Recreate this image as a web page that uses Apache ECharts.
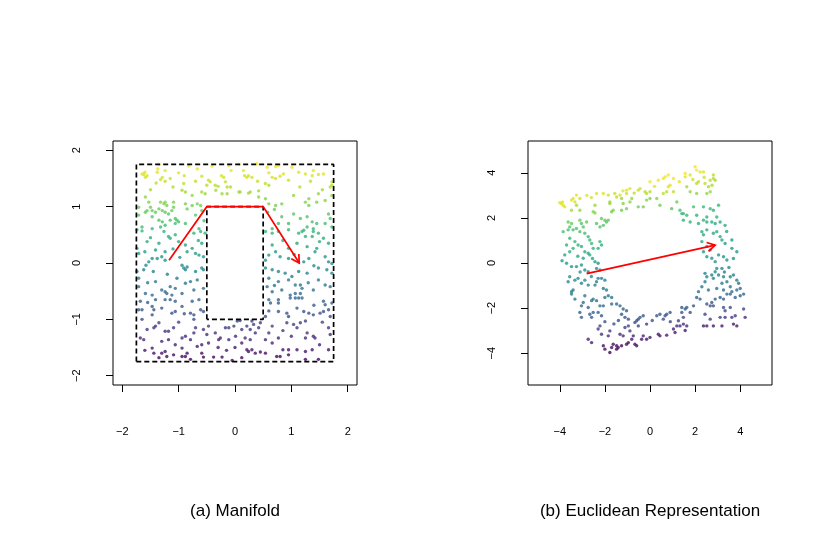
<!DOCTYPE html>
<html><head><meta charset="utf-8">
<script src="https://cdn.jsdelivr.net/npm/echarts@6/dist/echarts.min.js"></script>
<style>html,body{margin:0;padding:0;background:#fff}#c{width:830px;height:554px}</style>
</head><body><div id="c"></div>
<script>
// ---------- data ----------
const manifoldTicks = [-2, -1, 0, 1, 2];
const euclidTicks = [-4, -2, 0, 2, 4];
const titles = ['(a) Manifold', '(b) Euclidean Representation'];

// (a) points [x, y]; colour follows y
const manifoldPoints = [
[-1.60,1.61],[-1.62,1.57],[-1.56,1.55],[-1.59,1.52],[-1.65,1.58],[-1.35,1.75],[-1.37,1.67],[-1.24,1.64],[-1.29,1.52],[-1.38,1.61],[-1.40,1.42],[-1.32,1.48],[-1.24,1.45],[-0.82,1.72],[-0.67,1.67],[-0.59,1.54],[-0.41,1.72],[-0.47,1.47],[-0.44,1.44],[-0.30,1.36],[-0.24,1.55],[-0.20,1.52],[-0.17,1.44],[-0.11,1.73],[-0.07,1.64],[-0.08,1.35],[-0.14,1.35],[0.07,1.75],[0.15,1.64],[0.17,1.55],[0.24,1.55],[0.30,1.52],[0.21,1.52],[0.09,1.26],[0.39,1.76],[0.60,1.60],[0.57,1.70],[0.72,1.71],[0.77,1.73],[0.66,1.52],[0.72,1.50],[0.80,1.54],[0.86,1.58],[0.95,1.47],[0.54,1.41],[0.60,1.38],[1.01,1.70],[1.13,1.61],[1.25,1.58],[1.39,1.64],[1.37,1.55],[1.48,1.57],[1.57,1.58],[1.72,1.44],[1.72,1.38],[1.69,1.35],[1.34,1.45],[-0.91,1.41],[-0.94,1.29],[-0.88,1.26],[-0.76,1.20],[-0.59,1.26],[-0.50,1.38],[-0.53,1.23],[-0.35,1.38],[-0.34,1.29],[-0.23,1.23],[-0.14,1.23],[0.07,1.26],[0.24,1.24],[0.27,1.26],[0.42,1.28],[0.42,1.17],[0.54,1.14],[0.60,1.05],[0.72,1.02],[0.83,1.05],[1.04,1.20],[1.25,1.08],[1.31,1.14],[1.31,1.02],[1.45,1.08],[1.60,1.11],[1.72,1.20],[1.48,1.23],
[-1.50,1.30],[-1.10,1.35],[-1.00,1.60],[-0.90,1.55],[-1.15,1.50],[-0.70,1.45],[0.40,1.45],[1.15,1.35],[1.55,1.30],
[-1.59,1.17],[-1.53,1.08],[-1.50,0.99],[-1.56,0.93],[-1.59,0.90],[-1.47,0.93],[-1.41,0.90],[-1.32,1.08],[-1.26,1.05],[-1.24,1.08],[-1.21,1.02],[-1.35,0.96],[-1.29,0.93],[-1.24,0.90],[-1.12,0.93],[-1.18,0.87],[-1.06,0.79],[-1.03,0.76],[-1.09,1.08],[-1.09,0.99],[-0.88,1.05],[-0.85,0.96],[-0.76,1.02],[-0.67,1.05],[-0.61,1.02],[-0.59,0.93],[-1.47,0.82],[-1.35,0.76],[-1.29,0.73],[-1.15,0.76],[-1.06,0.70],[-1.00,0.73],[-1.71,0.99],[-1.71,0.85],[-1.65,0.64],[-1.47,0.61],[-1.32,0.64],[-1.24,0.67],[-0.88,0.70],[-0.64,0.61],[-0.70,0.85],[-0.55,0.75],
[0.83,0.82],[1.04,0.87],[1.16,0.79],[1.28,0.82],[1.37,0.73],[1.45,0.70],[1.60,0.70],[1.69,0.79],[1.28,0.64],[0.95,0.70],[1.22,0.58],[1.66,0.87],[0.77,0.70],[0.66,0.61],[1.39,0.61],[1.72,0.64],[0.58,0.90],[0.70,0.95],
[-1.74,0.59],[-1.65,0.57],[-1.56,0.38],[-1.26,0.56],[-1.18,0.47],[-1.15,0.44],[-1.06,0.50],[-1.00,0.38],[-0.88,0.32],[-0.85,0.20],[-0.76,0.26],[-0.70,0.17],[-0.64,0.14],[-0.59,0.35],[-0.56,0.11],[-0.61,0.56],[-0.53,0.53],[-0.73,0.53],[-1.71,0.17],[-1.74,0.26],[-1.58,-0.04],[-1.53,0.02],[-1.47,0.08],[-1.38,0.08],[-1.30,0.11],[-1.24,0.05],[-1.41,0.23],[-1.24,0.20],[-1.62,-0.12],[-1.74,-0.15],[-1.71,-0.27],[-1.71,-0.42],[-1.41,-0.33],[-1.30,-0.48],[-1.24,-0.51],[-1.21,-0.54],[-1.12,-0.57],[-1.03,-0.27],[-0.94,-0.04],[-0.91,-0.09],[-0.88,-0.12],[-0.85,-0.07],[-0.88,-0.36],[-0.79,-0.33],[-0.73,-0.48],[-0.67,-0.30],[-0.59,-0.09],[-0.56,-0.12],[-0.56,-0.45],[-1.47,-0.57],[-1.59,-0.54],[-1.06,-0.45],[-0.94,-0.54],[-1.15,-0.42],
[-1.50,0.45],[-1.35,0.35],[-1.60,0.20],[-1.10,0.25],[-1.20,-0.20],[-1.45,-0.15],[-0.70,-0.15],[-0.65,0.40],[-1.55,-0.35],[-0.98,0.10],
[0.54,0.56],[0.66,0.53],[0.77,0.56],[0.95,0.59],[1.13,0.53],[1.19,0.56],[1.25,0.47],[1.37,0.47],[1.39,0.56],[1.48,0.53],[1.57,0.44],[1.66,0.35],[0.66,0.32],[0.72,0.20],[0.60,0.14],[0.54,0.05],[0.80,0.11],[0.95,0.26],[1.10,0.35],[1.28,0.29],[1.42,0.20],[1.45,0.26],[1.31,0.08],[1.60,0.11],[1.66,0.02],[1.72,-0.01],[1.22,0.02],[0.95,0.08],[0.54,-0.09],[0.66,-0.12],[0.77,-0.15],[0.89,-0.18],[1.01,-0.24],[1.13,-0.15],[1.28,-0.18],[1.48,-0.09],[1.63,-0.12],[1.72,-0.18],[0.60,-0.27],[0.77,-0.33],[0.95,-0.30],[1.07,-0.39],[1.16,-0.39],[1.19,-0.45],[1.16,-0.54],[1.07,-0.54],[0.98,-0.57],[0.83,-0.48],[0.66,-0.51],[0.57,-0.42],[1.48,-0.30],[1.60,-0.39],[1.69,-0.42],[1.39,-0.48],
[0.85,0.40],[1.50,0.38],[1.05,0.15],[1.40,-0.05],[0.70,-0.40],[1.30,-0.35],
[-1.68,-0.68],[-1.71,-0.83],[-1.65,-0.83],[-1.47,-0.77],[-1.44,-0.83],[-1.47,-0.92],[-1.41,-0.65],[-1.24,-0.65],[-1.15,-0.65],[-1.06,-0.68],[-1.12,-0.89],[-1.06,-0.86],[-0.94,-0.77],[-0.79,-0.89],[-0.73,-0.92],[-0.76,-0.68],[-0.64,-0.65],[-0.61,-0.83],[-0.56,-0.86],[-0.73,-1.00],[-1.35,-1.06],[-1.41,-1.12],[-1.44,-1.15],[-1.56,-1.18],[-1.24,-1.21],[-1.18,-1.21],[-1.09,-1.15],[-1.68,-1.33],[-1.62,-1.36],[-1.47,-1.51],[-1.30,-1.39],[-1.18,-1.36],[-0.94,-1.33],[-0.88,-1.30],[-0.79,-1.36],[-0.73,-1.24],[-0.70,-1.15],[-0.56,-1.18],[-0.47,-1.12],[-0.50,-1.27],[-0.67,-1.48],[-0.59,-1.45],[-0.47,-1.42],[-0.94,-1.51],[-1.06,-1.45],[-1.24,-1.57],[-1.30,-1.60],[-1.21,-1.66],[-1.09,-1.63],[-1.35,-1.68],[-1.44,-1.60],[-0.94,-1.66],[-0.88,-1.66],[-0.85,-1.60],[-0.79,-1.71],[-0.59,-1.60],[-0.56,-1.67],[-0.38,-1.67],[-0.23,-1.67],[-0.05,-1.73],[0.12,-1.68],[0.24,-1.57],[0.30,-1.54],[0.36,-1.60],[0.45,-1.58],[0.21,-1.54],[0.18,-1.33],[0.27,-1.36],[0.12,-1.42],[0.01,-1.30],[-0.11,-1.36],[-0.26,-1.33],[-0.35,-1.24],[-0.17,-1.15],[-0.11,-1.15],[-0.02,-1.12],[0.04,-1.03],[0.12,-1.18],[0.21,-1.12],[0.27,-1.18],[0.33,-1.09],[0.36,-1.24],[0.42,-1.15],[0.45,-1.06],[0.30,-1.03],[0.09,-1.02],[-0.29,-1.36],
[-0.30,-1.50],[-0.15,-1.55],[0.00,-1.50],[-1.60,-1.55],[-1.65,-1.00],[-1.00,-1.05],[-0.90,-0.90],[-1.30,-0.80],[-1.55,-0.70],
[0.60,-0.65],[0.63,-0.71],[0.77,-0.65],[0.77,-0.71],[0.98,-0.62],[1.07,-0.62],[1.13,-0.62],[1.19,-0.62],[1.57,-0.68],[1.60,-0.74],[1.72,-0.71],[0.77,-0.86],[0.92,-0.89],[0.95,-0.95],[1.22,-0.86],[1.31,-0.89],[1.39,-0.92],[1.51,-0.89],[1.57,-0.86],[1.66,-0.83],[1.69,-0.95],[0.54,-0.95],[0.66,-1.12],[0.92,-1.06],[1.04,-1.09],[1.16,-1.06],[1.25,-1.03],[1.10,-1.15],[1.28,-1.24],[1.25,-1.33],[1.39,-1.30],[1.42,-1.33],[1.66,-1.15],[1.69,-1.27],[0.77,-1.33],[0.54,-1.36],[0.60,-1.24],[0.85,-1.54],[0.95,-1.54],[1.10,-1.54],[1.25,-1.57],[1.37,-1.54],[1.66,-1.54],[0.74,-1.66],[0.80,-1.66],[1.48,-1.71],[1.25,-1.71],[0.95,-1.63],[0.54,-1.60],[0.66,-1.42],
[1.50,-1.45],[1.00,-1.30],[0.85,-1.20],[1.40,-0.75],[1.10,-0.80],[0.60,-0.85],[1.55,-1.05]
];

// (b) points [x, y, colour value (original height)]
const euclidPoints = [
[-3.93,2.64,1.6],[-3.85,2.56,1.6],[-3.78,2.49,1.6],[-4.00,2.67,1.6],[-3.88,2.71,1.6],[-3.48,2.79,1.6],[-3.41,2.86,1.6],[-3.26,3.01,1.6],[-3.11,2.86,1.5],[-3.33,2.71,1.5],[-2.37,3.08,1.6],[-2.07,3.08,1.6],[-1.85,3.01,1.5],[-1.56,3.08,1.5],[-1.33,3.01,1.5],[-1.48,2.93,1.4],[-1.04,3.23,1.6],[-0.89,3.30,1.6],[-1.04,3.08,1.5],[-0.52,3.23,1.5],[-0.44,3.30,1.5],[-0.22,3.16,1.4],[-0.15,3.08,1.4],[0.00,3.16,1.4],[0.00,3.60,1.7],[0.37,3.67,1.7],[0.59,3.75,1.7],[0.67,3.82,1.7],[0.81,3.90,1.7],[0.89,3.45,1.6],[0.81,3.38,1.6],[1.04,3.75,1.7],[0.59,3.08,1.4],[0.74,3.16,1.4],[1.04,3.16,1.4],[1.56,3.97,1.7],[1.56,3.82,1.6],[1.78,3.90,1.6],[2.00,4.27,1.7],[2.07,4.12,1.7],[2.22,4.04,1.6],[2.37,4.04,1.6],[2.07,3.53,1.4],[2.15,3.60,1.4],[2.44,3.53,1.4],[2.67,3.67,1.4],[2.81,3.90,1.4],[2.81,3.75,1.4],[2.89,3.67,1.3],[2.59,3.38,1.3],[2.67,3.16,1.2],[2.52,3.08,1.2],[1.63,3.38,1.3],[1.78,3.16,1.2],[2.07,3.08,1.2],
[-2.80,3.00,1.6],[-2.60,2.90,1.5],[-1.20,3.20,1.6],[-0.70,3.10,1.4],[0.20,3.40,1.6],[1.30,3.60,1.6],[1.90,3.70,1.5],[2.40,3.80,1.5],[2.75,3.45,1.3],
[-3.48,2.34,1.3],[-3.26,2.56,1.3],[-3.11,2.34,1.2],[-2.52,2.27,1.1],[-2.44,2.22,1.1],[-1.78,2.64,1.2],[-1.70,2.27,1.0],[-1.63,2.34,1.1],[-1.26,2.34,1.0],[-1.04,2.41,1.0],[-0.89,2.71,1.1],[-0.81,2.86,1.2],[-0.52,2.49,1.0],[-0.30,2.49,1.0],[-0.15,2.79,1.1],[0.00,2.86,1.1],[0.30,2.86,1.1],[0.44,2.56,1.0],[-2.44,2.56,1.2],[-1.26,2.86,1.2],[-1.78,2.71,1.2],[-1.19,2.64,1.1],
[-3.63,1.82,0.9],[-3.48,1.75,0.9],[-3.56,1.60,0.8],[-3.11,1.90,0.9],[-3.04,1.75,0.8],[-2.81,1.82,0.9],[-2.96,1.60,0.8],[-3.26,1.53,0.8],[-2.37,1.75,0.8],[-2.15,1.97,0.9],[-2.07,1.67,0.8],[-2.00,1.90,0.9],[-1.93,1.82,0.8],[-1.85,1.90,0.9],[-2.22,1.60,0.8],
[0.96,2.41,0.8],[1.33,2.34,0.7],[1.48,2.19,0.6],[1.63,2.12,0.6],[1.41,2.19,0.6],[1.93,2.49,0.7],[2.37,2.49,0.6],[2.67,2.41,0.6],[3.04,2.56,0.6],[2.07,2.12,0.5],[2.52,2.04,0.5],[2.81,2.34,0.5],[2.52,1.82,0.4],[2.74,1.82,0.4],[2.89,1.75,0.4],[3.11,1.82,0.4],[3.33,1.67,0.4],[1.78,1.82,0.5],[2.15,1.75,0.5],[2.37,1.90,0.5],[1.19,2.71,0.9],[1.48,1.90,0.5],[2.96,2.04,0.5],
[-3.85,1.39,0.7],[-3.63,1.47,0.7],[-3.41,1.47,0.7],[-3.11,1.39,0.7],[-2.89,1.32,0.7],[-2.74,1.17,0.6],[-2.67,1.02,0.6],[-2.59,0.87,0.6],[-2.22,0.95,0.6],[-2.15,0.80,0.5],[-2.30,0.65,0.5],[-2.52,0.65,0.5],[-3.56,1.10,0.6],[-3.33,0.95,0.6],[-3.19,0.80,0.5],[-3.04,0.73,0.5],[-3.41,0.65,0.5],[-2.89,0.50,0.4],[-2.74,0.43,0.4],[-2.67,0.36,0.4],[-2.96,0.21,0.3],[-3.56,0.50,0.4],[-3.78,0.36,0.3],[-3.70,-0.01,0.2],[-3.48,-0.16,0.1],[-3.26,-0.16,0.1],[-3.04,-0.09,0.1],[-2.89,-0.31,0.0],[-2.74,-0.39,0.0],[-2.44,0.06,0.2],[-2.30,-0.01,0.1],[-2.37,-0.24,0.0],[-2.22,-0.31,0.0],[-2.15,-0.68,-0.2],[-2.30,-0.68,-0.2],[-2.37,-0.83,-0.2],[-2.44,-0.98,-0.3],[-2.00,-0.76,-0.2],[-2.07,-1.13,-0.3],[-1.93,-1.20,-0.3],[-3.56,-0.61,0.0],[-3.33,-0.76,-0.1],[-3.63,-0.83,-0.1],[-3.19,-0.68,-0.1],[-3.04,-0.90,-0.2],[-2.89,-0.76,-0.1],[-2.74,-0.98,-0.2],[-3.41,-1.20,-0.3],[-3.48,-1.27,-0.3],
[-3.70,0.80,0.5],[-3.20,0.30,0.3],[-2.55,0.20,0.3],[-3.90,0.10,0.2],[-3.10,-0.40,0.0],[-2.60,-0.60,-0.1],
[2.30,1.39,0.4],[2.37,1.25,0.4],[2.52,1.47,0.4],[2.81,1.32,0.4],[2.96,1.39,0.4],[3.11,1.17,0.3],[3.19,1.02,0.3],[3.33,0.87,0.2],[3.63,1.02,0.2],[3.63,0.65,0.1],[3.85,0.50,0.1],[2.30,0.95,0.3],[2.52,0.73,0.2],[2.67,0.58,0.2],[2.37,0.50,0.2],[2.52,0.28,0.1],[2.74,0.21,0.1],[2.89,0.06,0.0],[3.04,0.36,0.1],[3.26,0.28,0.1],[3.41,0.13,0.0],[2.96,-0.24,-0.1],[2.89,-0.39,-0.1],[2.74,-0.53,-0.2],[2.81,-0.68,-0.2],[3.04,-0.53,-0.2],[3.19,-0.24,-0.1],[3.26,-0.61,-0.2],[3.41,-0.83,-0.3],[3.19,-0.90,-0.3],[3.56,-0.61,-0.2],[3.70,-0.53,-0.2],[3.85,-0.76,-0.3],[3.93,-0.90,-0.4],[4.00,-1.13,-0.5],[3.85,-1.20,-0.5],[3.56,-1.05,-0.4],[3.63,-1.27,-0.5],[3.26,-1.20,-0.5],[2.96,-1.13,-0.4],[2.44,-0.83,-0.3],[2.30,-1.05,-0.4],[2.59,-1.20,-0.4],[2.15,-1.27,-0.4],[2.44,-0.46,-0.2],[2.52,-0.61,-0.2],
[3.40,1.40,0.3],[3.70,0.20,0.0],[3.50,-0.20,-0.1],[3.30,-0.40,-0.2],
[-3.48,-1.38,-0.3],[-3.33,-1.60,-0.4],[-3.04,-1.90,-0.5],[-2.96,-1.75,-0.5],[-2.89,-1.45,-0.3],[-2.59,-1.67,-0.4],[-2.52,-1.60,-0.4],[-2.37,-1.67,-0.4],[-2.22,-1.90,-0.5],[-2.07,-1.90,-0.5],[-2.00,-1.53,-0.4],[-1.85,-1.45,-0.3],[-1.70,-1.53,-0.4],[-1.48,-1.82,-0.6],[-1.33,-1.90,-0.6],[-1.70,-1.82,-0.5],[-2.74,-1.97,-0.6],[-3.11,-2.19,-0.7],[-3.04,-2.41,-0.8],[-2.67,-2.27,-0.7],[-2.59,-2.41,-0.8],[-2.52,-2.19,-0.7],[-2.30,-2.19,-0.7],[-2.15,-2.34,-0.8],[-1.19,-2.04,-0.7],[-1.04,-2.12,-0.7],[-1.26,-2.27,-0.8],[-1.11,-2.41,-0.9],[-0.96,-2.49,-0.9],
[-2.22,-2.79,-1.0],[-2.30,-2.93,-1.1],[-2.15,-3.16,-1.2],[-1.78,-3.01,-1.2],[-1.85,-3.23,-1.3],[-1.11,-2.86,-1.1],[-0.96,-2.79,-1.0],[-0.89,-3.01,-1.2],[-0.67,-2.64,-0.9],[-0.59,-2.56,-0.9],[-0.52,-2.49,-0.9],[-0.44,-2.41,-0.8],[-0.30,-2.34,-0.8],[-0.15,-2.71,-1.1],[-0.52,-2.79,-1.1],[0.30,-2.34,-0.8],[0.44,-2.27,-0.8],[0.67,-2.34,-0.9],[0.74,-2.27,-0.8],[0.89,-2.19,-0.8],[0.59,-2.49,-0.9],[1.41,-2.19,-0.8],[1.56,-2.04,-0.8],[1.63,-1.97,-0.7],[1.41,-1.97,-0.8],[1.78,-2.19,-0.9],[1.48,-2.41,-1.0],[1.26,-2.56,-1.1],[1.19,-2.79,-1.3],[1.33,-2.79,-1.3],[1.48,-2.71,-1.3],[1.63,-2.79,-1.3],[1.56,-2.99,-1.5],[1.04,-2.93,-1.4],[1.11,-3.08,-1.5],
[-1.60,-2.70,-1.0],[-1.40,-2.55,-0.9],[-2.00,-2.60,-0.9],[0.10,-2.55,-0.9],[0.90,-2.60,-1.0],
[2.07,-1.53,-0.6],[2.22,-1.60,-0.7],[2.52,-1.82,-0.8],[2.67,-1.90,-0.9],[2.74,-1.75,-0.8],[2.89,-1.60,-0.7],[3.11,-1.53,-0.7],[3.26,-1.60,-0.7],[3.41,-1.38,-0.6],[3.56,-1.38,-0.6],[3.78,-1.53,-0.7],[4.00,-1.45,-0.7],[4.15,-1.38,-0.6],[2.81,-1.90,-0.9],[3.26,-1.97,-0.9],[3.33,-2.12,-1.0],[3.56,-1.97,-0.9],[4.15,-2.04,-1.0],[2.44,-2.27,-1.0],[2.67,-2.49,-1.1],[3.11,-2.41,-1.1],[3.33,-2.41,-1.2],[3.63,-2.41,-1.2],[3.78,-2.34,-1.1],[4.22,-2.41,-1.3],[3.70,-2.71,-1.5],[3.85,-2.79,-1.5],[3.19,-2.79,-1.5],[2.81,-2.79,-1.5],[2.52,-2.79,-1.5],[2.37,-2.79,-1.5],[1.93,-1.90,-0.8],
[-2.74,-3.38,-1.4],[-2.59,-3.53,-1.5],[-2.07,-3.67,-1.6],[-2.00,-3.82,-1.6],[-1.78,-3.97,-1.7],[-1.70,-3.75,-1.6],[-1.63,-3.60,-1.6],[-1.48,-3.67,-1.6],[-1.41,-3.75,-1.6],[-1.26,-3.67,-1.6],[-1.48,-3.82,-1.7],[-1.04,-3.60,-1.6],[-0.96,-3.53,-1.6],[-0.81,-3.38,-1.5],[-0.67,-3.60,-1.6],[-0.59,-3.67,-1.6],[-0.74,-3.23,-1.4],[-0.37,-3.38,-1.5],[-0.30,-3.23,-1.4],[-0.15,-3.38,-1.5],[0.00,-3.30,-1.5],[0.37,-3.16,-1.5],[0.44,-3.23,-1.5],[0.74,-3.20,-1.5],[-1.33,-3.16,-1.3],[-1.19,-3.23,-1.3]
];

const outerRect = [[-1.75,-1.75],[-1.75,1.75],[1.75,1.75],[1.75,-1.75],[-1.75,-1.75]];
const innerRect = [[-0.5,-1],[-0.5,1],[0.5,1],[0.5,-1],[-0.5,-1]];
const manifoldPath = [[-1.17,0.05],[-0.5,1],[0.5,1],[1.14,0]];
const euclidPath = [[-2.81,-0.47],[2.89,0.79]];

const viridis = ['#440154','#482878','#3E4A89','#31688E','#26828E','#1F9E89','#35B779','#6DCD59','#B4DE2C','#FDE725'];

// ---------- chart ----------
const FONT = '"Liberation Sans", Arial, Helvetica, sans-serif';
const fmt = v => String(v).replace('-', '\u2212');

function xAx(grid, lim, ticks) {
  return {
    type: 'value', gridIndex: grid, min: -lim, max: lim, position: 'bottom',
    axisLine: { show: false, onZero: false },
    splitLine: { show: false },
    axisTick: { show: true, inside: false, customValues: ticks, length: 7, lineStyle: { color: '#000', width: 1 } },
    axisLabel: { customValues: ticks, margin: 41, color: '#000', fontSize: 11, fontFamily: FONT, formatter: fmt }
  };
}
function yAx(grid, lim, ticks) {
  return {
    type: 'value', gridIndex: grid, min: -lim, max: lim, position: 'left',
    axisLine: { show: false, onZero: false },
    splitLine: { show: false },
    axisTick: { show: true, inside: false, customValues: ticks, length: 7, lineStyle: { color: '#000', width: 1 } },
    axisLabel: { customValues: ticks, margin: 31, rotate: 90, color: '#000', fontSize: 11, fontFamily: FONT, formatter: fmt }
  };
}
function arrowRender(path) {
  return function (params, api) {
    const pts = path.map(p => api.coord(p));
    const b = pts[pts.length - 1], a = pts[pts.length - 2];
    const ang = Math.atan2(b[1] - a[1], b[0] - a[0]);
    const L = 9, h = Math.PI / 6;
    const l1 = [b[0] - L * Math.cos(ang - h), b[1] - L * Math.sin(ang - h)];
    const l2 = [b[0] - L * Math.cos(ang + h), b[1] - L * Math.sin(ang + h)];
    const st = { stroke: '#FF0000', lineWidth: 1.7, fill: null };
    return { type: 'group', children: [
      { type: 'polyline', shape: { points: pts }, style: st },
      { type: 'polyline', shape: { points: [l1, b, l2] }, style: st }
    ]};
  };
}
const dashStyle = { color: '#000', width: 1.7, type: [5, 3] };

const chart = echarts.init(document.getElementById('c'), null, { renderer: 'canvas' });
chart.setOption({
  animation: false,
  backgroundColor: '#fff',
  grid: [
    { left: 113, top: 141, width: 244, height: 244, show: true, borderColor: '#000', borderWidth: 1, backgroundColor: 'transparent', outerBoundsMode: 'none', containLabel: false },
    { left: 528, top: 141, width: 244, height: 244, show: true, borderColor: '#000', borderWidth: 1, backgroundColor: 'transparent', outerBoundsMode: 'none', containLabel: false }
  ],
  xAxis: [xAx(0, 2.165, manifoldTicks), xAx(1, 5.41, euclidTicks)],
  yAxis: [yAx(0, 2.165, manifoldTicks), yAx(1, 5.41, euclidTicks)],
  visualMap: [
    { type: 'continuous', show: false, seriesIndex: 0, dimension: 1, min: -1.75, max: 1.75, inRange: { color: viridis } },
    { type: 'continuous', show: false, seriesIndex: 1, dimension: 2, min: -1.75, max: 1.75, inRange: { color: viridis } }
  ],
  series: [
    { type: 'scatter', xAxisIndex: 0, yAxisIndex: 0, data: manifoldPoints, symbol: 'circle', symbolSize: 3.4, silent: true, z: 2 },
    { type: 'scatter', xAxisIndex: 1, yAxisIndex: 1, data: euclidPoints, symbol: 'circle', symbolSize: 3.4, silent: true, z: 2 },
    { type: 'line', xAxisIndex: 0, yAxisIndex: 0, data: outerRect, symbol: 'none', lineStyle: dashStyle, silent: true, z: 3 },
    { type: 'line', xAxisIndex: 0, yAxisIndex: 0, data: innerRect, symbol: 'none', lineStyle: dashStyle, silent: true, z: 3 },
    { type: 'custom', xAxisIndex: 0, yAxisIndex: 0, coordinateSystem: 'cartesian2d', data: [[0, 0]], renderItem: arrowRender(manifoldPath), silent: true, clip: false, z: 5 },
    { type: 'custom', xAxisIndex: 1, yAxisIndex: 1, coordinateSystem: 'cartesian2d', data: [[0, 0]], renderItem: arrowRender(euclidPath), silent: true, clip: false, z: 5 }
  ],
  graphic: [
    { type: 'text', x: 235, y: 511, style: { text: titles[0], fill: '#000', font: '17px ' + FONT, align: 'center', verticalAlign: 'middle' } },
    { type: 'text', x: 650, y: 511, style: { text: titles[1], fill: '#000', font: '17px ' + FONT, align: 'center', verticalAlign: 'middle' } }
  ]
});
</script>
</body></html>
